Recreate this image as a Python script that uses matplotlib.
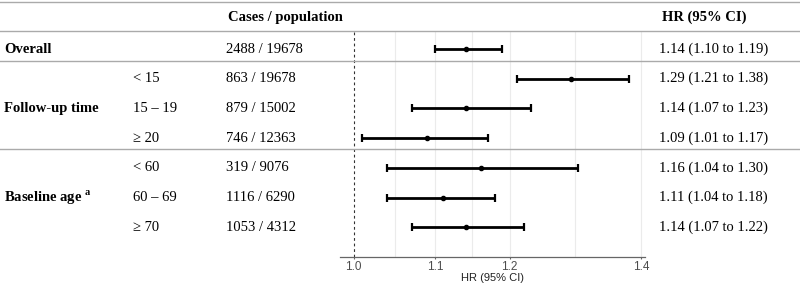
import matplotlib

matplotlib.use("Agg")
import matplotlib.pyplot as plt
import matplotlib.transforms as mtransforms
import numpy as np
from matplotlib.ticker import FixedLocator, NullFormatter

plt.rcParams["font.family"] = ["Liberation Serif", "DejaVu Serif"]
plt.rcParams["mathtext.fontset"] = "custom"
plt.rcParams["mathtext.bf"] = "Liberation Serif:bold"

# table rows, top to bottom
groups = ["Overall", "Follow-up time", "Baseline age"]
group_rows = [0, 2, 5]
subgroups = ["", "< 15", "15 – 19", "≥ 20", "< 60", "60 – 69", "≥ 70"]
cases = [2488, 863, 879, 746, 319, 1116, 1053]
population = [19678, 19678, 15002, 12363, 9076, 6290, 4312]
hr = [1.14, 1.29, 1.14, 1.09, 1.16, 1.11, 1.14]
ci_low = [1.10, 1.21, 1.07, 1.01, 1.04, 1.04, 1.07]
ci_high = [1.19, 1.38, 1.23, 1.17, 1.30, 1.18, 1.22]

x_ticks = [1.0, 1.1, 1.2, 1.4]
x_minor = [1.049, 1.149, 1.296]

FS = 10.5
W, H = 800, 286
fig = plt.figure(figsize=(W / 100, H / 100), dpi=100)

# forest panel placed in pixel units
row0, step = 49, 29.7
top_px, bot_px = 31, 257
ax = fig.add_axes([340 / W, 1 - bot_px / H, (645 - 340) / W, (bot_px - top_px) / H])
ax.set_xscale("log")
ax.set_xlim(0.984, 1.406)
ax.set_ylim((bot_px - row0) / step, (top_px - row0) / step)

ys = np.arange(len(hr))
ax.xaxis.set_major_locator(FixedLocator(x_ticks))
ax.xaxis.set_minor_locator(FixedLocator(x_minor))
ax.xaxis.set_major_formatter(matplotlib.ticker.FixedFormatter([f"{t:.1f}" for t in x_ticks]))
ax.xaxis.set_minor_formatter(NullFormatter())
for v in x_ticks[1:] + x_minor:
    ax.axvline(v, color="#ebebeb", lw=0.8, zorder=0)
ax.axvline(1.0, color="#333333", lw=0.8, ls=(0, (2.5, 2.5)), zorder=1)

err = [np.array(hr) - np.array(ci_low), np.array(ci_high) - np.array(hr)]
ax.errorbar(hr, ys, xerr=err, fmt="o", color="black", ms=3, elinewidth=2,
            capsize=3, capthick=1.6, zorder=3)

for s in ["top", "right", "left"]:
    ax.spines[s].set_visible(False)
ax.spines["bottom"].set_color("#666666")
ax.spines["bottom"].set_linewidth(0.9)
ax.set_yticks([])
ax.tick_params(axis="x", which="both", length=0, pad=1.5, colors="#4d4d4d",
               labelsize=8.5)
ax.tick_params(axis="x", which="major", length=1.5, color="#666666")
for lab in ax.get_xticklabels():
    lab.set_family(["Liberation Sans", "DejaVu Sans"])
ax.set_xlabel("HR (95% CI)", fontsize=8, family=["Liberation Sans", "DejaVu Sans"],
              color="#222222", labelpad=0)

# text columns share the panel's row coordinates
tr = mtransforms.blended_transform_factory(fig.transFigure, ax.transData)


def px(x):
    return x / W


hdr = (17 - row0) / step
fig.text(px(228), hdr, "Cases / population", transform=tr, fontsize=FS,
         weight="bold", va="center")
fig.text(px(662), hdr, "HR (95% CI)", transform=tr, fontsize=FS,
         weight="bold", va="center")

labels = list(groups)
labels[2] = r"Baseline age $^{\mathbf{a}}$"
for lab, r in zip(labels, group_rows):
    fig.text(px(4), r, lab, transform=tr, fontsize=FS, weight="bold", va="center")

for i in ys:
    if subgroups[i]:
        fig.text(px(133), i, subgroups[i], transform=tr, fontsize=FS, va="center")
    fig.text(px(226), i, f"{cases[i]} / {population[i]}", transform=tr,
             fontsize=FS, va="center")
    fig.text(px(659), i, f"{hr[i]:.2f} ({ci_low[i]:.2f} to {ci_high[i]:.2f})",
             transform=tr, fontsize=FS, va="center")

# separator lines
for ypx in [1.5, 31, 61, 149]:
    fig.add_artist(plt.Line2D([0, 1], [1 - ypx / H] * 2, color="#aaaaaa", lw=1.0))

fig.savefig("out.png", dpi=100)
